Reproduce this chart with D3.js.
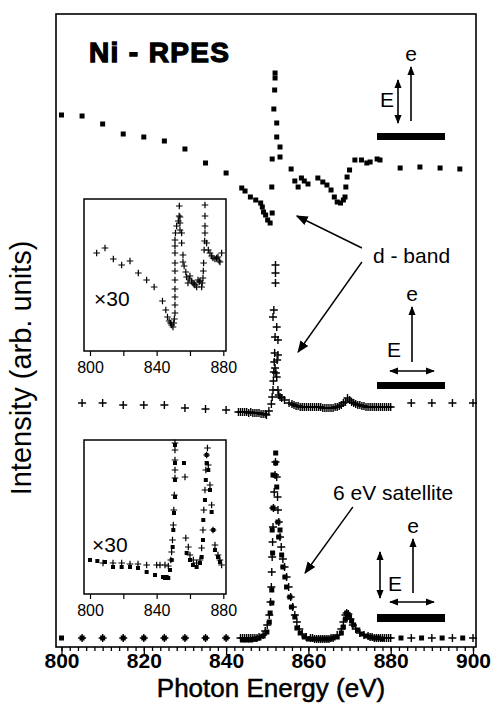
<!DOCTYPE html>
<html><head><meta charset="utf-8">
<script src="https://cdn.jsdelivr.net/npm/d3@7"></script>
<style>
html,body{margin:0;padding:0;background:#fff;}
text{font-family:"Liberation Sans",Arial,Helvetica,sans-serif;fill:#000;}
</style></head>
<body>
<svg id="chart" width="492" height="708"></svg>
<script>
// ---------- DATA (photon energy eV, intensity arb. units as plotted) ----------
const xTicksMain = [800, 820, 840, 860, 880, 900];
const xTicksInset = [800, 840, 880];

// top spectrum (filled squares), E vertical, incident along normal
const topE = [800,805,810,815,820,825,830,835,840,843.8,844.6,845.9,847.2,848.4,848.8,849.1,849.6,850.1,850.7,851.2,851.1,851.2,851.6,851.8,851.9,851.9,852.3,852.3,853.1,853.1,855.8,856.7,857.5,858.3,859.0,859.9,862.3,863.5,864.5,865.5,866.3,867.0,867.8,868.5,868.9,869.1,869.4,870.0,871.3,872.9,874.2,875.0,876.7,877.4,882.3,887.1,892,896.8];
const topI = [532,531,523,513,510,506,498,484,474,459,456,450,447,444,440,435,432,427,424,434,460,488,538,557,569,574,524,510,500,490,478,466,460,469,466,463,469,465,462,457,450,445,444,447,450,460,470,477,487,487,484,485,488,487,479,480,479,478];

// middle spectrum (crosses)
const midE = [805,810,815,820,825,830,835,840,843,843.5,844,844.5,845,845.5,846,846.5,847,847.5,848,848.5,849,849.5,849.8,850.4,851,851.2,851.4,851.5,851.6,851.7,851.8,851.4,851.6,852.0,852.0,852.0,852.3,851.9,852.6,852.6,852.4,851.9,852.1,852.3,852.6,852.8,853.1,853.5,854.2,855.3,856,856.5,857,857.5,858,858.5,859,859.5,860,860.5,861,861.5,862,862.5,863,863.5,864,864.5,865,865.5,866,866.5,867,867.5,868,868.5,869,869.5,870,870.5,871,871.5,872,872.5,873,873.5,874,874.5,875,875.5,876,876.5,877,877.5,878,878.5,879,879.5,880,885,890,895,900];
const midI = [244,244,242,242,242,239,238,237,235,235,235,235,235,234,235,234,234,234,234,233,233,233,232,236,243,250,257,266,275,285,294,330,337,364,374,382,320,310,307,292,287,279,274,270,257,252,250,249,247,244,243,242,241,241,240,240,240,240,240,240,240,240,240,240,240,239,239,239,239,239,239,240,240,241,242,244,245,249,247,245,244,243,242,242,241,241,240,240,240,240,240,240,240,240,240,240,240,240,240,244,244,244,244];

// bottom spectrum, two data sets: squares and crosses
const botSqE = [800,805,810,815,820,825,830,835,840,844,845,846,847,848,849,849.9,850.5,850.7,851.1,851.1,851.2,851.3,851.4,851.4,852.05,852.05,852.3,852.6,852.8,853.1,853.5,853.8,854.3,854.7,855.5,855.9,856.7,857.2,858,859,860,861,862,863,864,865,866,867,868,868.5,869,869.3,869.6,870,870.5,871,872,873,874,875,876,877,878,882.5,887.5,892.5,897.5];
const botSqI = [9,9,9,9,9,9,9,9,9,7,7,7,8,9,11,15,25,34,44,57,117,94,139,172,194,184,160,125,110,117,92,80,70,60,50,40,30,19,14,10,8,8,8,8,8,8,9,10,14,20,28,34,32,30,26,22,17,13,11,10,9,9,8,9,9,9,9];
const botCrE = [805,810,815,820,825,830,835,840,843.5,844,844.5,845,845.5,846,846.5,847,847.5,848,849,849.5,850,850.5,850.8,851,851.1,851.2,851.3,851.4,851.5,851.7,851.9,852.0,852.3,852.5,852.6,852.8,853.1,853.4,853.8,854.2,854.7,855.2,855.7,856.2,856.7,857.2,857.8,858.5,859.5,860.5,861,861.5,862,862.5,863,863.5,864,864.5,865,865.5,866,867,868,868.5,869,869.3,869.7,870.2,870.8,871.5,872.5,873.5,874.5,875,875.5,876,876.5,877,877.5,878,878.5,879,879.5,880,885,890,895,900];
const botCrI = [9,9,9,9,9,9,9,9,9,9,9,9,9,9,9,9,9,10,12,16,22,32,45,60,75,90,105,120,139,155,172,185,170,150,137,125,110,100,88,80,70,60,50,40,32,25,18,13,10,9,9,8,8,8,8,8,8,8,8,9,9,12,18,25,32,34,33,28,22,18,14,12,11,10,10,9,9,9,9,9,9,9,9,9,9,9,9,9];

// inset 1 (x30, middle geometry), crosses
const in1E = [804,809,814,819,824,829,834,838.5,843.5,845.5,846.5,847.5,848.3,849,849.8,850.3,850.6,851,851,851,851,851,851,851,851,851,851,851.3,852,853,853.6,853.5,854,854,854,855,855,855.8,855.8,856.5,857.5,858,858.8,859.5,860,861,861.8,862.5,863,864,864.8,865.5,866,867,867.3,867.8,868,868.2,868.5,868.8,869,869,869,869,870,871,872,873,873.8,875,876,876.8,877.5,878,879];
const in1I = [98,103,92,86,90,78,71,64,50,41,34,30,28,26,24,28,32,38,46,54,62,71,80,88,98,105,111,118,125,130,145,135,134,128,121,118,108,96,89,85,79,74,68,72,75,70,68,67,66,64,71,69,70,64,68,73,80,88,101,110,118,125,135,146,108,101,98,95,93,92,93,94,90,89,98];

// inset 2 (x30, bottom geometry), squares and crosses
const in2SqE = [800,804.4,809,813.8,819,824,828.8,834,839,843.8,845,846,847,848,849,849.6,850,850.4,851,851,851,851,856.4,858,860,861.8,864,866,867,867.8,868,869,869.5,870,870,871,872,873,874,875,876.8,878];
const in2SqI = [34,33,32,27,27,27,26,22,19,17,16,17,16,24,34,47,64,81,97,114,131,149,131,41,34,29,27,31,37,54,74,94,114,131,139,124,104,82,64,44,37,32];
const in2CrE = [807.8,813.8,819,824,828.8,834,840,842,845,847,848.5,849,849.5,850,850.3,850.6,851,851,851,851,851,857,857.5,859,860,862,864,866,867,867.8,868.3,869,869.5,870,870.5,871,872,873,873.8,875,876.8,878,879];
const in2CrI = [31,31,31,30,30,29,29,29,29,28,34,42,54,69,84,99,116,124,134,144,151,117,56,47,39,34,31,34,46,64,84,104,124,139,146,129,109,89,64,49,39,34,29];

// ---------- DRAWING ----------
const svg = d3.select("#chart");
const FONT = '"Liberation Sans",Arial,Helvetica,sans-serif';

const frame = {l: 56, r: 476, t: 14, b: 647};
const x = d3.scaleLinear().domain([800, 900]).range([61.5, 473]);
const y = d3.scaleLinear().domain([0, 633]).range([647, 14]);

const crossPath = s => `M${-s},0H${s}M0,${-s}V${s}`;

function squares(g, xs, ys, E, I, size) {
  g.selectAll(null).data(E.map((e, i) => [e, I[i]])).join("rect")
    .attr("x", d => xs(d[0]) - size / 2).attr("y", d => ys(d[1]) - size / 2)
    .attr("width", size).attr("height", size).attr("fill", "#000");
}
function crosses(g, xs, ys, E, I, s, w) {
  g.selectAll(null).data(E.map((e, i) => [e, I[i]])).join("path")
    .attr("transform", d => `translate(${xs(d[0])},${ys(d[1])})`)
    .attr("d", crossPath(s)).attr("stroke", "#000").attr("stroke-width", w).attr("fill", "none");
}

// defs: arrowheads
const defs = svg.append("defs");
function mk(id, size) {
  defs.append("marker").attr("id", id).attr("viewBox", "0 -5 10 10").attr("refX", 9).attr("refY", 0)
    .attr("markerWidth", size).attr("markerHeight", size).attr("orient", "auto-start-reverse")
    .attr("markerUnits", "userSpaceOnUse")
    .append("path").attr("d", "M0,-4L10,0L0,4Z").attr("fill", "#000");
}
mk("ah", 12);
mk("ahs", 9);

// frame
svg.append("rect").attr("x", frame.l).attr("y", frame.t)
  .attr("width", frame.r - frame.l).attr("height", frame.b - frame.t)
  .attr("fill", "none").attr("stroke", "#000").attr("stroke-width", 1.6);

// main x axis (minor + major ticks, outward)
const axG = svg.append("g").attr("transform", `translate(0,${frame.b})`);
axG.call(d3.axisBottom(x).tickValues(d3.range(800, 901, 2)).tickSize(4).tickFormat(""))
  .call(g => g.select(".domain").remove());
axG.append("g").call(d3.axisBottom(x).tickValues(xTicksMain).tickSize(8).tickFormat(d3.format("d")))
  .call(g => g.select(".domain").remove());
axG.selectAll("line").attr("stroke", "#000").attr("stroke-width", 1.3);
axG.selectAll("text").attr("font-family", FONT).attr("font-size", 21).attr("font-weight", "bold")
  .attr("fill", "#000").attr("y", 6).attr("dy", "0.72em");

// axis titles
svg.append("text").attr("x", 271).attr("y", 697).attr("text-anchor", "middle")
  .attr("font-size", 26).attr("stroke", "#000").attr("stroke-width", 0.5).text("Photon Energy (eV)");
svg.append("text").attr("transform", "translate(31,368) rotate(-90)").attr("text-anchor", "middle")
  .attr("font-size", 29).text("Intensity (arb. units)");

// spectra
const gData = svg.append("g");
squares(gData, x, y, topE, topI, 5);
crosses(gData, x, y, midE, midI, 4, 1.4);
squares(gData, x, y, botSqE, botSqI, 5);
crosses(gData, x, y, botCrE, botCrI, 4, 1.4);

// title
svg.append("text").attr("x", 89).attr("y", 62).attr("font-family", "DejaVu Sans").attr("font-weight", "bold")
  .attr("font-size", 28).attr("stroke", "#000").attr("stroke-width", 1.3).attr("textLength", 140).text("Ni - RPES");

// insets
function inset(top, bottom, drawer) {
  const xi = d3.scaleLinear().domain([800, 880]).range([90, 223.3]);
  const yi = d3.scaleLinear().domain([0, bottom - top]).range([bottom, top]);
  const g = svg.append("g");
  g.append("rect").attr("x", 84).attr("y", top).attr("width", 142).attr("height", bottom - top)
    .attr("fill", "#fff").attr("stroke", "#000").attr("stroke-width", 1.5);
  const ax = g.append("g").attr("transform", `translate(0,${bottom})`)
    .call(d3.axisBottom(xi).tickValues([800, 820, 840, 860, 880]).tickSize(5).tickPadding(5)
      .tickFormat(d => xTicksInset.includes(d) ? d : ""));
  ax.select(".domain").remove();
  ax.selectAll("line").attr("stroke", "#000").attr("stroke-width", 1.2);
  ax.selectAll("text").attr("font-family", FONT).attr("font-size", 16).attr("fill", "#000").attr("dy", "0.72em");
  drawer(g, xi, yi);
  return g;
}
inset(199, 351, (g, xi, yi) => {
  crosses(g, xi, yi, in1E, in1I, 3.3, 1.2);
  g.append("text").attr("x", 94).attr("y", 306).attr("font-size", 21).text("×30");
});
inset(440, 594, (g, xi, yi) => {
  squares(g, xi, yi, in2SqE, in2SqI, 4);
  crosses(g, xi, yi, in2CrE, in2CrI, 3.3, 1.2);
  g.append("text").attr("x", 92).attr("y", 552).attr("font-size", 21).text("×30");
});

// annotations (anchored in data coordinates)
function arrow(e0, i0, e1, i1) {
  svg.append("line").attr("x1", x(e0)).attr("y1", y(i0)).attr("x2", x(e1)).attr("y2", y(i1))
    .attr("stroke", "#000").attr("stroke-width", 1.4).attr("marker-end", "url(#ah)");
}
svg.append("text").attr("x", 373).attr("y", 263).attr("font-size", 21).text("d - band");
arrow(873, 399, 857.2, 431);
arrow(873, 385, 857.5, 295);
svg.append("text").attr("x", 333).attr("y", 500).attr("font-size", 21).text("6 eV satellite");
arrow(870.8, 140, 859.2, 74);

// geometry sketches
function sketch(opts) {
  const g = svg.append("g");
  g.append("rect").attr("x", 377).attr("y", opts.barY).attr("width", 68).attr("height", opts.barH).attr("fill", "#000");
  g.append("line").attr("x1", opts.ex).attr("y1", opts.eY0).attr("x2", opts.ex).attr("y2", opts.eY1)
    .attr("stroke", "#000").attr("stroke-width", 1.6).attr("marker-end", "url(#ahs)");
  g.append("text").attr("x", opts.ex).attr("y", opts.eY1 - 6).attr("text-anchor", "middle").attr("font-size", 21).text("e");
  if (opts.vE) {
    g.append("line").attr("x1", opts.vE.x).attr("y1", opts.vE.y0).attr("x2", opts.vE.x).attr("y2", opts.vE.y1)
      .attr("stroke", "#000").attr("stroke-width", 1.6).attr("marker-start", "url(#ahs)").attr("marker-end", "url(#ahs)");
  }
  if (opts.hE) {
    g.append("line").attr("x1", 390).attr("y1", opts.hE).attr("x2", 434).attr("y2", opts.hE)
      .attr("stroke", "#000").attr("stroke-width", 1.6).attr("marker-start", "url(#ahs)").attr("marker-end", "url(#ahs)");
  }
  g.append("text").attr("x", opts.Ex).attr("y", opts.Ey).attr("font-size", 21).text("E");
}
sketch({barY: 133, barH: 7, ex: 411, eY0: 121, eY1: 67, vE: {x: 398, y0: 80, y1: 123}, Ex: 380, Ey: 107});
sketch({barY: 382, barH: 7, ex: 412, eY0: 362, eY1: 307, hE: 371, Ex: 387, Ey: 357});
sketch({barY: 614, barH: 8, ex: 413, eY0: 593, eY1: 539, vE: {x: 380, y0: 552, y1: 598}, hE: 602, Ex: 388, Ey: 591});
</script>
</body></html>
